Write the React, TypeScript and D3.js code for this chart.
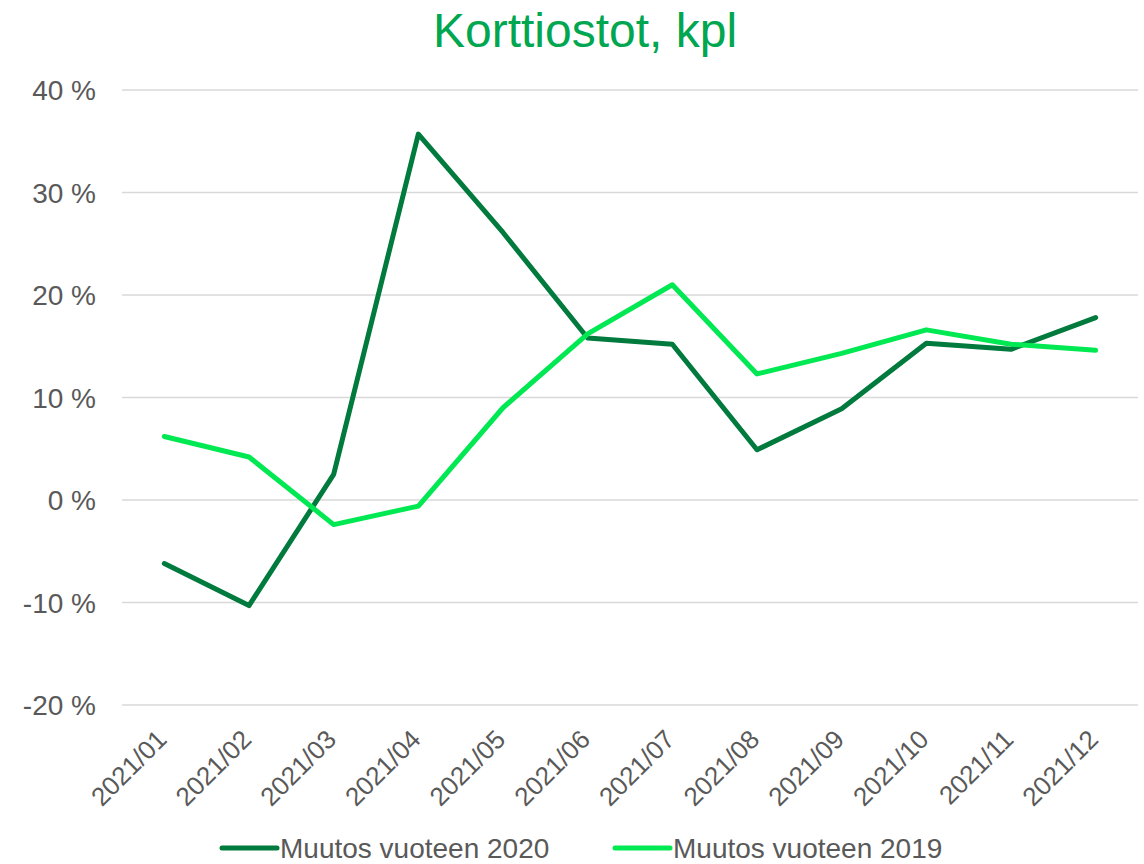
import React, { useEffect, useRef } from "react";
import * as d3 from "d3";

const months = [
  "2021/01", "2021/02", "2021/03", "2021/04", "2021/05", "2021/06",
  "2021/07", "2021/08", "2021/09", "2021/10", "2021/11", "2021/12",
];
const change2020 = [-6.2, -10.3, 2.5, 35.7, 26.1, 15.8, 15.2, 4.9, 8.9, 15.3, 14.7, 17.8];
const change2019 = [6.2, 4.2, -2.4, -0.6, 9.0, 16.2, 21.0, 12.3, 14.3, 16.6, 15.2, 14.6];
const yTicks = [-20, -10, 0, 10, 20, 30, 40];
const seriesNames = ["Muutos vuoteen 2020", "Muutos vuoteen 2019"];
const seriesColors = ["#007a3d", "#00e852"];

export default function App() {
  const svgRef = useRef<SVGSVGElement>(null);

  useEffect(() => {
    const width = 1144;
    const height = 864;
    const left = 122;
    const right = 1138;
    const top = 90;
    const bottom = 705;

    const svg = d3.select(svgRef.current);
    svg.selectAll("*").remove();
    svg.attr("width", width).attr("height", height);

    const font = "'Liberation Sans', Arial, sans-serif";

    // Title
    svg
      .append("text")
      .attr("x", 585)
      .attr("y", 47)
      .attr("text-anchor", "middle")
      .attr("fill", "#00a650")
      .style("font-family", font)
      .style("font-size", "48px")
      .text("Korttiostot, kpl");

    const x = d3.scaleBand().domain(months).range([left, right]);
    const y = d3.scaleLinear().domain([-20, 40]).range([bottom, top]);

    // Gridlines
    svg
      .append("g")
      .selectAll("line")
      .data(yTicks)
      .join("line")
      .attr("x1", left)
      .attr("x2", right)
      .attr("y1", (d) => y(d))
      .attr("y2", (d) => y(d))
      .attr("stroke", "#d9d9d9")
      .attr("stroke-width", 1.5);

    // Y labels
    svg
      .append("g")
      .selectAll("text")
      .data(yTicks)
      .join("text")
      .attr("x", 96)
      .attr("y", (d) => y(d) + 10)
      .attr("text-anchor", "end")
      .attr("fill", "#595959")
      .style("font-family", font)
      .style("font-size", "28px")
      .text((d) => `${d} %`);

    // X labels
    svg
      .append("g")
      .selectAll("text")
      .data(months)
      .join("text")
      .attr("text-anchor", "end")
      .attr("fill", "#595959")
      .style("font-family", font)
      .style("font-size", "26px")
      .attr("transform", (d) => `translate(${(x(d) ?? 0) + x.bandwidth() / 2 + 4},${bottom + 36}) rotate(-45)`)
      .text((d) => d);

    // Lines
    const line = d3
      .line<number>()
      .x((_, i) => (x(months[i]) ?? 0) + x.bandwidth() / 2)
      .y((d) => y(d));

    [change2020, change2019].forEach((vals, i) => {
      svg
        .append("path")
        .datum(vals)
        .attr("d", line)
        .attr("fill", "none")
        .attr("stroke", seriesColors[i])
        .attr("stroke-width", 5)
        .attr("stroke-linecap", "round")
        .attr("stroke-linejoin", "round");
    });

    // Legend
    const legendX = [222, 615];
    seriesNames.forEach((name, i) => {
      const g = svg.append("g").attr("transform", `translate(${legendX[i]},848)`);
      g.append("line")
        .attr("x1", 0)
        .attr("x2", 55)
        .attr("stroke", seriesColors[i])
        .attr("stroke-width", 5)
        .attr("stroke-linecap", "round");
      g.append("text")
        .attr("x", 58)
        .attr("y", 10)
        .attr("fill", "#595959")
        .style("font-family", font)
        .style("font-size", "28px")
        .text(name);
    });
  }, []);

  return <svg ref={svgRef} style={{ position: "absolute", left: 0, top: 0 }}></svg>;
}
